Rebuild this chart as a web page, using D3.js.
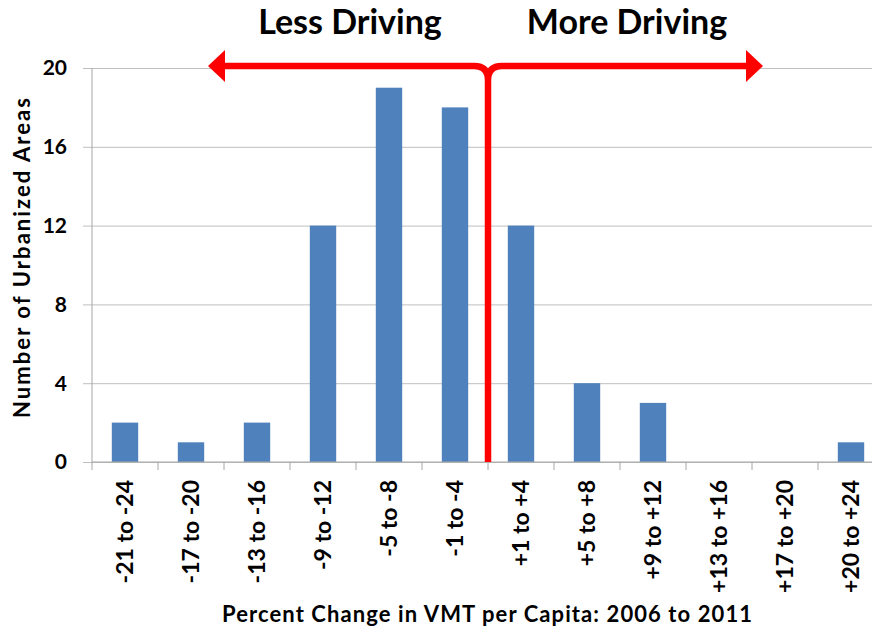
<!DOCTYPE html>
<html>
<head>
<meta charset="utf-8">
<script src="https://cdn.jsdelivr.net/npm/d3@7"></script>
<style>
  body { margin: 0; background: #fff; }
  svg text { font-family: Lato, "Open Sans", sans-serif; font-weight: bold; fill: #000; }
  .grid line { stroke: #bfbfbf; stroke-width: 1; }
  .grid path { display: none; }
</style>
</head>
<body>
<div id="chart"></div>
<script>
// data
var categories = ["-21 to -24", "-17 to -20", "-13 to -16", "-9 to -12", "-5 to -8", "-1 to -4",
                  "+1 to +4", "+5 to +8", "+9 to +12", "+13 to +16", "+17 to +20", "+20 to +24"];
var counts = [2, 1, 2, 12, 19, 18, 12, 4, 3, 0, 0, 1];
var yTicks = [0, 4, 8, 12, 16, 20];

var width = 872, height = 631;
var plotLeft = 92, plotRight = 884, plotTop = 68, plotBottom = 462;

var svg = d3.select("#chart").append("svg")
  .attr("width", width)
  .attr("height", height);

var xscale = d3.scaleBand()
  .domain(categories)
  .range([plotLeft, plotRight])
  .paddingInner(0.6)
  .paddingOuter(0.3);

var yscale = d3.scaleLinear()
  .domain([0, 20])
  .range([plotBottom, plotTop]);

// gridlines
svg.append("g")
  .attr("class", "grid")
  .attr("transform", "translate(" + plotLeft + ",0)")
  .call(d3.axisLeft(yscale).tickValues(yTicks).tickSize(-(width - plotLeft)).tickFormat(""))
  .selectAll("line").attr("x1", -9);

// y axis line
svg.append("line")
  .attr("x1", plotLeft).attr("x2", plotLeft)
  .attr("y1", plotTop).attr("y2", plotBottom)
  .attr("stroke", "#a6a6a6");

// y labels
svg.selectAll(".ylab")
  .data(yTicks)
  .enter().append("text")
  .attr("class", "ylab")
  .attr("x", 67)
  .attr("y", function (d) { return yscale(d); })
  .attr("dy", "0.35em")
  .attr("text-anchor", "end")
  .style("font-size", "21px")
  .text(function (d) { return d; });

// bars
svg.selectAll(".bar")
  .data(counts)
  .enter().append("rect")
  .attr("class", "bar")
  .attr("x", function (d, i) { return xscale(categories[i]); })
  .attr("width", xscale.bandwidth())
  .attr("y", function (d) { return yscale(d); })
  .attr("height", function (d) { return plotBottom - yscale(d); })
  .attr("fill", "#4f81bd");

// x axis
var gap = (xscale.step() - xscale.bandwidth()) / 2;
var boundaries = categories.map(function (c) { return xscale(c) - gap; });
svg.append("line")
  .attr("x1", plotLeft).attr("x2", width)
  .attr("y1", plotBottom).attr("y2", plotBottom)
  .attr("stroke", "#a6a6a6");
svg.selectAll(".xtick")
  .data(boundaries)
  .enter().append("line")
  .attr("x1", function (d) { return d; }).attr("x2", function (d) { return d; })
  .attr("y1", plotBottom).attr("y2", plotBottom + 8)
  .attr("stroke", "#a6a6a6");

// x labels
svg.selectAll(".xlab")
  .data(categories)
  .enter().append("text")
  .attr("class", "xlab")
  .attr("transform", function (d) {
    return "translate(" + (xscale(d) + xscale.bandwidth() / 2) + ",480) rotate(-90)";
  })
  .attr("dy", "0.36em")
  .attr("text-anchor", "end")
  .style("font-size", "23px")
  .text(function (d) { return d; });

// axis titles
svg.append("text")
  .attr("x", 487)
  .attr("y", 622)
  .attr("text-anchor", "middle")
  .attr("textLength", 530)
  .attr("lengthAdjust", "spacing")
  .style("font-size", "22px")
  .text("Percent Change in VMT per Capita: 2006 to 2011");

svg.append("text")
  .attr("transform", "translate(30,258) rotate(-90)")
  .attr("text-anchor", "middle")
  .attr("textLength", 320)
  .attr("lengthAdjust", "spacing")
  .style("font-size", "22px")
  .text("Number of Urbanized Areas");

// red brace + arrows
var mid = boundaries[6];
var ay = 66;
var r = 14;
var path = d3.path();
path.moveTo(222, ay);
path.lineTo(mid - r, ay);
path.quadraticCurveTo(mid, ay, mid, ay + r);
path.lineTo(mid, plotBottom);
path.moveTo(mid, ay + r);
path.quadraticCurveTo(mid, ay, mid + r, ay);
path.lineTo(750, ay);
svg.append("path")
  .attr("d", path.toString())
  .attr("fill", "none")
  .attr("stroke", "#ff0000")
  .attr("stroke-width", 6.5);

svg.append("path")
  .attr("d", "M208," + ay + "L225," + (ay - 16) + "L225," + (ay + 16) + "Z")
  .attr("fill", "#ff0000");
svg.append("path")
  .attr("d", "M763," + ay + "L746," + (ay - 16) + "L746," + (ay + 16) + "Z")
  .attr("fill", "#ff0000");

svg.append("text")
  .attr("x", 350)
  .attr("y", 34)
  .attr("text-anchor", "middle")
  .style("font-size", "34px")
  .text("Less Driving");
svg.append("text")
  .attr("x", 627)
  .attr("y", 34)
  .attr("text-anchor", "middle")
  .style("font-size", "34px")
  .text("More Driving");
</script>
</body>
</html>
